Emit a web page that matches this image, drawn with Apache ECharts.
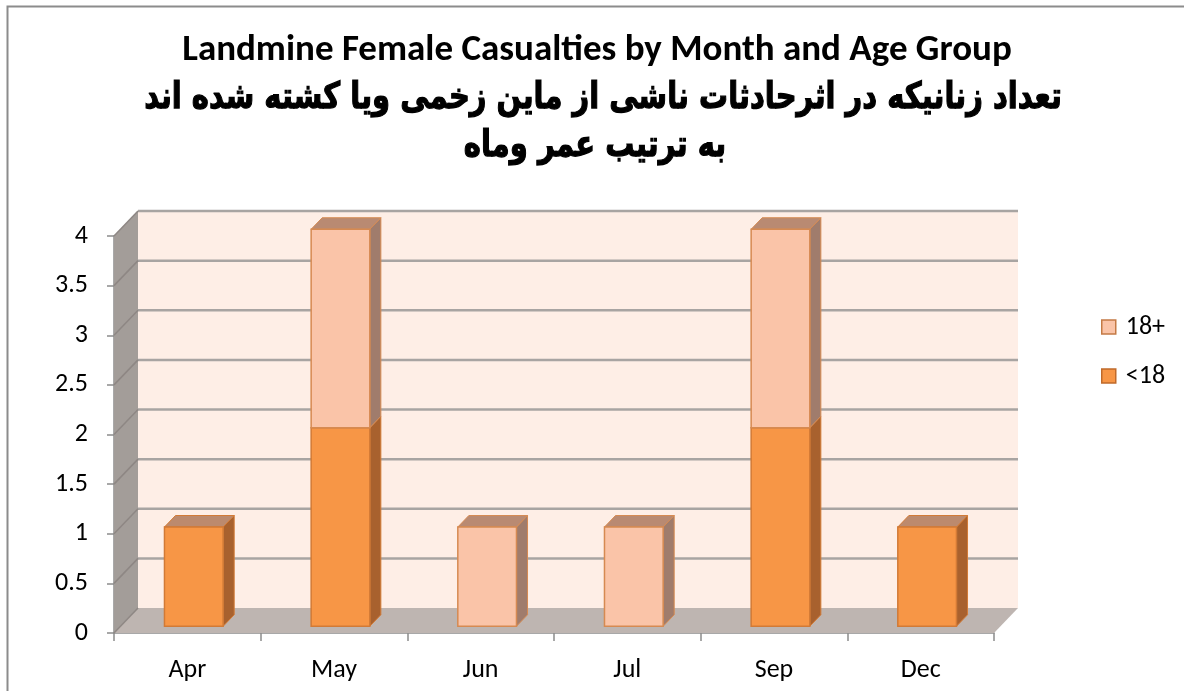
<!DOCTYPE html>
<html>
<head>
<meta charset="utf-8">
<script src="https://cdn.jsdelivr.net/npm/echarts@6/dist/echarts.min.js"></script>
<style>
html,body{margin:0;padding:0;background:#fff;}
#chart{width:1184px;height:691px;}
</style>
</head>
<body>
<div id="chart"></div>
<script>
// ---- data ----
const months = ['Apr', 'May', 'Jun', 'Jul', 'Sep', 'Dec'];
const under18 = [1, 2, 0, 0, 2, 1];
const adults = [0, 2, 1, 1, 2, 0];
const yMin = 0, yMax = 4, yStep = 0.5;
const titleEn = 'Landmine Female Casualties by Month and Age Group';
const titleAr1 = 'تعداد زنانیکه در اثرحادثات ناشی از ماین زخمی ویا کشته شده اند';
const titleAr2 = 'به ترتیب عمر وماه';

// ---- style ----
const DX = 24, DY = -25;          // full depth offset of the 3D box
const F0 = 0.27, F1 = 0.73;        // bar depth (front / back fraction)
const BAR_W = 0.40;                // bar width as share of band
const latin = 'Carlito, Lato, sans-serif';
const arabic = '"DejaVu Sans", sans-serif';
const styles = {
  '<18': { front: '#F79646', side: '#A8612E', top: '#BC8A6E', border: '#D27A36' },
  '18+': { front: '#FAC4A8', side: '#A07C6C', top: '#B98A72', border: '#D68A52' }
};

const chart = echarts.init(document.getElementById('chart'), null, { renderer: 'canvas' });

function wallsRender(params, api) {
  const cs = params.coordSys;
  const x0 = cs.x, x1 = cs.x + cs.width;
  const yb = api.coord([0, yMin])[1], yt = api.coord([0, yMax])[1];
  const children = [];
  children.push({ type: 'polygon', shape: { points: [[x0 + DX, yt + DY], [x1 + DX, yt + DY], [x1 + DX, yb + DY], [x0 + DX, yb + DY]] },
    style: { fill: '#FEEEE6' } });
  children.push({ type: 'polygon', shape: { points: [[x0, yb], [x0, yt], [x0 + DX, yt + DY], [x0 + DX, yb + DY]] },
    style: { fill: '#A39D99' } });
  children.push({ type: 'polygon', shape: { points: [[x0, yb], [x1, yb], [x1 + DX, yb + DY], [x0 + DX, yb + DY]] },
    style: { fill: '#BEB5B1' } });
  for (let v = yMin; v <= yMax + 1e-9; v += yStep) {
    const y = api.coord([0, v])[1];
    if (v > yMin) {
      children.push({ type: 'line', shape: { x1: x0 + DX, y1: y + DY, x2: x1 + DX, y2: y + DY },
        style: { stroke: '#A8A4A2', lineWidth: 2.5 } });
    }
    children.push({ type: 'line', shape: { x1: x0, y1: y, x2: x0 + DX, y2: y + DY },
      style: { stroke: '#8E8784', lineWidth: 1.5 } });
  }
  return { type: 'group', children: children };
}

function barRender(name) {
  const st = styles[name];
  return function (params, api) {
    const i = api.value(0), lo = api.value(1), hi = api.value(2), isTop = api.value(3);
    if (hi - lo <= 0) return null;
    const band = api.size([1, 0])[0];
    const w = band * BAR_W;
    const cx = api.coord([i, 0])[0] + F0 * DX;
    const yLo = api.coord([i, lo])[1] + F0 * DY;
    const yHi = api.coord([i, hi])[1] + F0 * DY;
    const L = cx - w / 2, R = cx + w / 2;
    const ox = (F1 - F0) * DX, oy = (F1 - F0) * DY;
    const children = [];
    children.push({ type: 'polygon', shape: { points: [[R, yLo], [R + ox, yLo + oy], [R + ox, yHi + oy], [R, yHi]] },
      style: { fill: st.side, stroke: st.border, lineWidth: 1 } });
    if (isTop) {
      children.push({ type: 'polygon', shape: { points: [[L, yHi], [R, yHi], [R + ox, yHi + oy], [L + ox, yHi + oy]] },
        style: { fill: st.top, stroke: st.border, lineWidth: 1 } });
    }
    children.push({ type: 'rect', shape: { x: L, y: yHi, width: w, height: yLo - yHi },
      style: { fill: st.front, stroke: st.border, lineWidth: 1.5 } });
    return { type: 'group', children: children };
  };
}

const dataU = months.map((m, i) => [i, 0, under18[i], adults[i] === 0 ? 1 : 0]);
const dataA = months.map((m, i) => [i, under18[i], under18[i] + adults[i], 1]);

chart.setOption({
  animation: false,
  backgroundColor: '#ffffff',
  legend: {
    orient: 'vertical',
    left: 1096,
    top: 309,
    padding: 5,
    itemWidth: 14,
    itemHeight: 14,
    itemGap: 23,
    icon: 'rect',
    textStyle: { fontFamily: latin, fontSize: 26, color: '#000', padding: [0, 0, 0, 5] },
    data: [
      { name: '18+', itemStyle: { color: styles['18+'].front, borderColor: '#C47A45', borderWidth: 1.5 } },
      { name: '<18', itemStyle: { color: styles['<18'].front, borderColor: '#C06A2A', borderWidth: 1.5 } }
    ]
  },
  grid: { left: 114, top: 236, width: 880, height: 397, containLabel: false },
  xAxis: {
    type: 'category',
    data: months,
    boundaryGap: true,
    axisLine: { show: true, lineStyle: { color: '#8C8C8C', width: 1.5 } },
    axisTick: { show: true, length: 8, lineStyle: { color: '#8C8C8C', width: 1.5 } },
    axisLabel: { fontFamily: latin, fontSize: 26, color: '#000', margin: 24 },
    splitLine: { show: false }
  },
  yAxis: {
    type: 'value',
    min: yMin, max: yMax, interval: yStep,
    axisLine: { show: true, lineStyle: { color: '#8C8C8C', width: 1.5 } },
    axisTick: { show: true, length: 7, lineStyle: { color: '#8C8C8C', width: 1.5 } },
    axisLabel: { fontFamily: latin, fontSize: 26, color: '#000', margin: 26 },
    splitLine: { show: false }
  },
  graphic: [
    { type: 'polyline', z: 100, shape: { points: [[7.5, 691], [7.5, 6.5], [1184, 6.5]] },
      style: { stroke: '#8C8C8C', lineWidth: 2, fill: null } },
    { type: 'text', x: 597, y: 51, z: 100,
      style: { text: titleEn, font: 'bold 37px ' + latin, fill: '#000', textAlign: 'center', textVerticalAlign: 'middle' } },
    { type: 'text', x: 603, y: 99, scaleY: 1.25, z: 100,
      style: { text: titleAr1, font: 'bold 29px ' + arabic, fill: '#000', stroke: '#000', lineWidth: 1, textAlign: 'center', textVerticalAlign: 'middle' } },
    { type: 'text', x: 595, y: 147, scaleY: 1.25, z: 100,
      style: { text: titleAr2, font: 'bold 29px ' + arabic, fill: '#000', stroke: '#000', lineWidth: 1, textAlign: 'center', textVerticalAlign: 'middle' } }
  ],
  series: [
    { type: 'custom', name: 'walls', data: [[0, 0]], renderItem: wallsRender, z: 1, silent: true,
      encode: { x: 0, y: 1 } },
    { type: 'custom', name: '<18', data: dataU, renderItem: barRender('<18'), z: 3,
      encode: { x: 0, y: [1, 2] }, itemStyle: { color: styles['<18'].front } },
    { type: 'custom', name: '18+', data: dataA, renderItem: barRender('18+'), z: 4,
      encode: { x: 0, y: [1, 2] }, itemStyle: { color: styles['18+'].front } }
  ]
});
</script>
</body>
</html>
